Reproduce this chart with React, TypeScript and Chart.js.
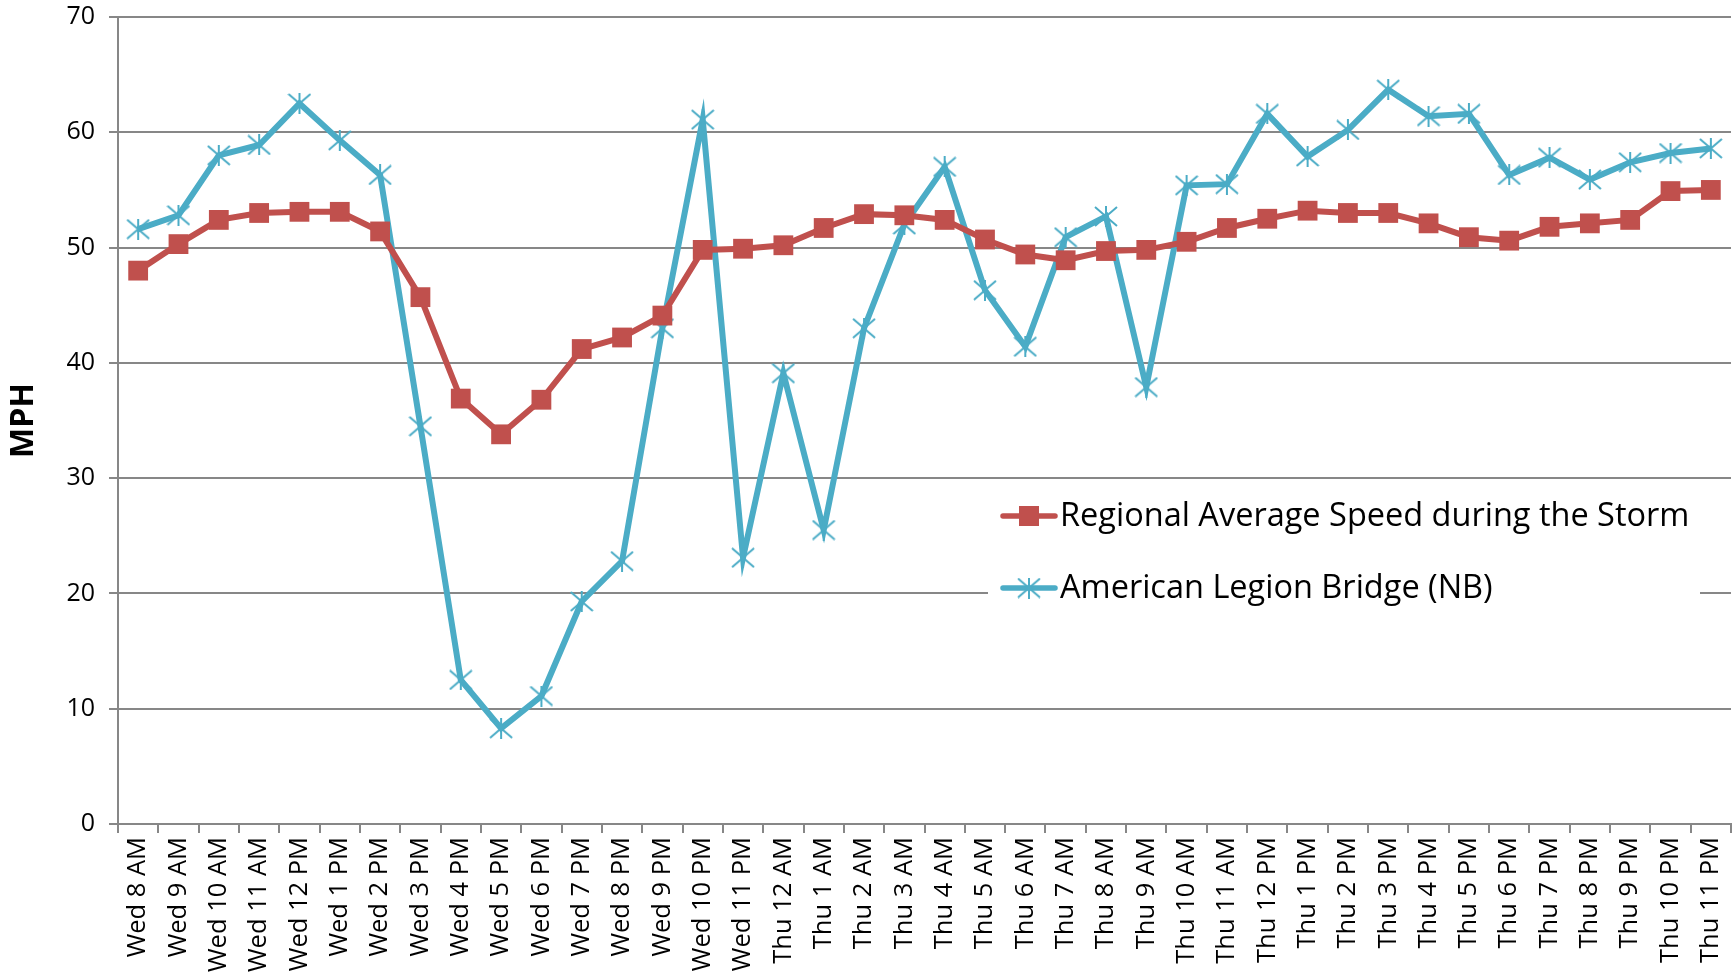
import React, { useEffect, useRef } from "react";
import { Chart, registerables } from "chart.js";

Chart.register(...registerables);

const categories = [
  "Wed 8 AM", "Wed 9 AM", "Wed 10 AM", "Wed 11 AM", "Wed 12 PM", "Wed 1 PM", "Wed 2 PM", "Wed 3 PM",
  "Wed 4 PM", "Wed 5 PM", "Wed 6 PM", "Wed 7 PM", "Wed 8 PM", "Wed 9 PM", "Wed 10 PM", "Wed 11 PM",
  "Thu 12 AM", "Thu 1 AM", "Thu 2 AM", "Thu 3 AM", "Thu 4 AM", "Thu 5 AM", "Thu 6 AM", "Thu 7 AM",
  "Thu 8 AM", "Thu 9 AM", "Thu 10 AM", "Thu 11 AM", "Thu 12 PM", "Thu 1 PM", "Thu 2 PM", "Thu 3 PM",
  "Thu 4 PM", "Thu 5 PM", "Thu 6 PM", "Thu 7 PM", "Thu 8 PM", "Thu 9 PM", "Thu 10 PM", "Thu 11 PM",
];

const regionalAverage = [
  48.0, 50.3, 52.4, 53.0, 53.1, 53.1, 51.4, 45.7, 36.9, 33.8, 36.8, 41.2, 42.2, 44.1, 49.8, 49.9,
  50.2, 51.7, 52.9, 52.8, 52.4, 50.7, 49.4, 48.9, 49.7, 49.8, 50.5, 51.7, 52.5, 53.2, 53.0, 53.0,
  52.1, 50.9, 50.6, 51.8, 52.1, 52.4, 54.9, 55.0,
];

const americanLegionBridge = [
  51.6, 52.8, 58.0, 58.9, 62.5, 59.3, 56.3, 34.5, 12.5, 8.3, 11.1, 19.3, 22.8, 43.0, 61.1, 23.1,
  39.1, 25.5, 43.0, 52.0, 57.0, 46.3, 41.4, 50.9, 52.7, 37.9, 55.4, 55.5, 61.6, 57.9, 60.2, 63.7,
  61.4, 61.6, 56.3, 57.8, 55.9, 57.4, 58.2, 58.6,
];

const seriesLabels = ["Regional Average Speed during the Storm", "American Legion Bridge (NB)"];
const yAxisTitle = "MPH";

const RED = "#C0504D";
const BLUE = "#4BACC6";
const GRID = "#878787";
const FONT = "'Open Sans', 'Noto Sans', sans-serif";

function makeStar(w: number, h: number, color: string): HTMLCanvasElement {
  const c = document.createElement("canvas");
  c.width = w;
  c.height = h;
  const g = c.getContext("2d")!;
  g.strokeStyle = color;
  g.lineWidth = 2;
  g.beginPath();
  g.moveTo(1, 1);
  g.lineTo(w - 1, h - 1);
  g.moveTo(w - 1, 1);
  g.lineTo(1, h - 1);
  g.moveTo(w / 2, 0);
  g.lineTo(w / 2, h);
  g.stroke();
  return c;
}

export default function App() {
  const ref = useRef<HTMLCanvasElement>(null);

  useEffect(() => {
    document.body.style.margin = "0";
    const star = makeStar(24, 21, BLUE);

    const legendPlugin = {
      id: "insideLegend",
      beforeDatasetsDraw(chart: any) {
        const ctx = chart.ctx as CanvasRenderingContext2D;
        ctx.save();
        ctx.fillStyle = "#ffffff";
        ctx.fillRect(988, 488, 712, 138);
        const colors = [RED, BLUE];
        seriesLabels.forEach((label, i) => {
          const y = 516 + i * 72;
          ctx.strokeStyle = colors[i];
          ctx.lineWidth = 5.5;
          ctx.lineCap = "round";
          ctx.beginPath();
          ctx.moveTo(1003, y);
          ctx.lineTo(1055, y);
          ctx.stroke();
          if (i === 0) {
            ctx.fillStyle = RED;
            ctx.fillRect(1029 - 10, y - 10, 20, 20);
          } else {
            ctx.drawImage(star, 1029 - 12, y - 10.5);
          }
          ctx.fillStyle = "#000";
          ctx.font = `32.5px ${FONT}`;
          ctx.textBaseline = "middle";
          ctx.textAlign = "left";
          ctx.fillText(label, 1060, y + 1);
        });
        ctx.restore();
      },
    };

    const chart = new Chart(ref.current!, {
      type: "line",
      data: {
        labels: categories,
        datasets: [
          {
            label: seriesLabels[0],
            data: regionalAverage,
            borderColor: RED,
            backgroundColor: RED,
            borderWidth: 6,
            pointStyle: "rect",
            pointRadius: 14,
            pointBorderWidth: 0,
            pointBackgroundColor: RED,
            tension: 0,
          },
          {
            label: seriesLabels[1],
            data: americanLegionBridge,
            borderColor: BLUE,
            backgroundColor: BLUE,
            borderWidth: 6,
            pointStyle: star as any,
            pointRadius: 12,
            tension: 0,
          },
        ],
      },
      options: {
        responsive: false,
        animation: false,
        devicePixelRatio: 1,
        layout: { autoPadding: false, padding: { top: 17, right: 3, left: 0, bottom: 0 } },
        plugins: {
          legend: { display: false },
          tooltip: { enabled: false },
        },
        scales: {
          x: {
            offset: true,
            grid: {
              offset: true,
              drawOnChartArea: false,
              color: GRID,
              lineWidth: 2,
              tickLength: 9,
            },
            border: { color: GRID, width: 2 },
            ticks: {
              autoSkip: false,
              minRotation: 90,
              maxRotation: 90,
              padding: 4,
              color: "#000",
              font: { family: FONT, size: 25.5 },
            },
            afterFit(scale: any) {
              scale.height = 152;
              scale.paddingLeft = 0;
              scale.paddingRight = 0;
            },
          },
          y: {
            min: 0,
            max: 70,
            ticks: {
              stepSize: 10,
              padding: 14,
              color: "#000",
              font: { family: FONT, size: 25 },
            },
            grid: { color: GRID, lineWidth: 2, tickLength: 9 },
            border: { color: GRID, width: 2 },
            title: {
              display: true,
              text: yAxisTitle,
              color: "#000",
              padding: { top: 5, bottom: 0 },
              font: { family: FONT, size: 32, weight: "bold" },
            },
            afterFit(scale: any) {
              scale.width = 118;
              scale.paddingTop = 0;
              scale.paddingBottom = 0;
            },
          },
        },
      },
      plugins: [legendPlugin],
    });
    return () => chart.destroy();
  }, []);

  return (
    <div style={{ width: 1734, height: 976, background: "#fff" }}>
      <canvas ref={ref} width={1734} height={976} style={{ display: "block" }} />
    </div>
  );
}
